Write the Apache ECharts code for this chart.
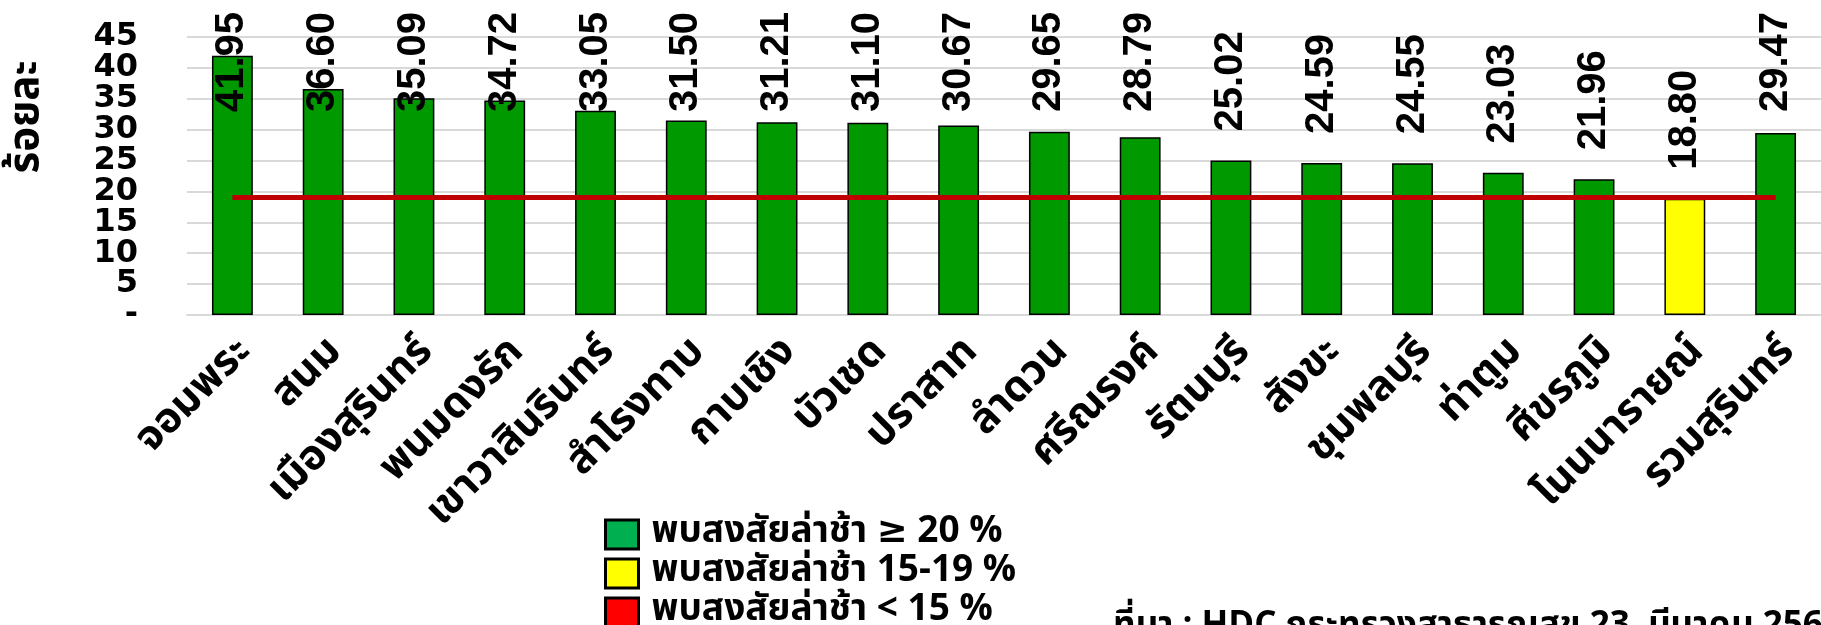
<!DOCTYPE html>
<html>
<head>
<meta charset="utf-8">
<script src="https://cdn.jsdelivr.net/npm/echarts@6/dist/echarts.min.js"></script>
<style>
  html, body { margin: 0; padding: 0; background: #fff; }
  #chart { width: 1821px; height: 625px; }
</style>
</head>
<body>
<div id="chart"></div>
<script>
const districts = ['จอมพระ', 'สนม', 'เมืองสุรินทร์', 'พนมดงรัก', 'เขาวาสินรินทร์', 'สำโรงทาบ', 'กาบเชิง', 'บัวเชด',
  'ปราสาท', 'ลำดวน', 'ศรีณรงค์', 'รัตนบุรี', 'สังขะ', 'ชุมพลบุรี', 'ท่าตูม', 'ศีขรภูมิ', 'โนนนารายณ์', 'รวมสุรินทร์'];
const percents = [41.95, 36.60, 35.09, 34.72, 33.05, 31.50, 31.21, 31.10, 30.67, 29.65, 28.79, 25.02, 24.59, 24.55,
  23.03, 21.96, 18.80, 29.47];
const legendNames = ['พบสงสัยล่าช้า ≥ 20 %', 'พบสงสัยล่าช้า 15-19 %', 'พบสงสัยล่าช้า < 15 %'];
const legendColors = ['#00b050', '#ffff00', '#ff0000'];
const targetLine = 19;
const yTicks = { min: 0, max: 45, interval: 5 };

const THAI = "Tahoma, 'Noto Sans Thai', 'DejaVu Sans', sans-serif";
const LABEL_FAMILY = "'Liberation Sans', Arial, sans-serif";
const LABEL_SIZE = 40;
const LABEL_GAP = 29;   // gap between bar top and its value label
const LABEL_TOP = 12;   // labels are pushed down so they never go above this

// split values into the three colour bands
const bands = [
  percents.map(v => v >= 20 ? v : '-'),
  percents.map(v => v >= 15 && v < 20 ? v : '-'),
  percents.map(v => v < 15 ? v : '-')
];
const barColors = ['#009900', '#ffff00', '#ff0000'];

const chart = echarts.init(document.getElementById('chart'));

const valueLabel = {
  show: true, position: 'top', distance: LABEL_GAP, rotate: 90,
  align: 'left', verticalAlign: 'middle',
  color: '#000', fontSize: LABEL_SIZE, fontWeight: 'bold', fontFamily: LABEL_FAMILY,
  formatter: p => p.value.toFixed(2)
};

const series = bands.map((data, i) => ({
  type: 'bar', stack: 'all', barWidth: '45%', name: legendNames[i], data,
  label: valueLabel,
  itemStyle: { color: barColors[i], borderColor: '#000', borderWidth: 1.5 }
}));
series[0].markLine = {
  silent: true, symbol: 'none', label: { show: false },
  lineStyle: { color: '#c00000', width: 5, type: 'solid' },
  data: [[{ coord: [0, targetLine] }, { coord: [districts.length - 1, targetLine] }]]
};

// tick labels are packed tightly; the min/max ones go on a twin axis so the overlap check keeps all of them
const tickText = { margin: 49, color: '#000', fontSize: 32, fontWeight: 'bold', fontFamily: "'DejaVu Sans', sans-serif" };
const isEnd = v => v === yTicks.min || v === yTicks.max;

chart.setOption({
  animation: false,
  grid: { left: 187, right: -7, top: 37, bottom: 310 },
  legend: legendNames.map((name, i) => ({
    orient: 'vertical', left: 604, top: 516 + i * 39, padding: 0,
    itemWidth: 33, itemHeight: 29, icon: 'rect', selectedMode: false,
    textStyle: { color: '#000', fontSize: 37, fontWeight: 'bold', fontFamily: THAI, padding: [0, 0, 0, 8] },
    data: [{ name, itemStyle: { color: legendColors[i], borderColor: '#000', borderWidth: 3 } }]
  })),
  xAxis: {
    type: 'category', data: districts,
    axisLine: { lineStyle: { color: '#d9d9d9', width: 2 } },
    axisTick: { show: false },
    axisLabel: { interval: 0, rotate: 45, margin: 46, padding: [0, -20, 0, 0],
      color: '#000', fontSize: 42, fontWeight: 'bold', fontFamily: THAI }
  },
  yAxis: [
    { type: 'value', ...yTicks,
      axisLine: { show: false }, axisTick: { show: false },
      splitLine: { lineStyle: { color: '#d9d9d9', width: 2 } },
      axisLabel: { ...tickText, showMinLabel: false, showMaxLabel: false,
        formatter: v => isEnd(v) ? '' : String(v) } },
    { type: 'value', ...yTicks, position: 'left',
      axisLine: { show: false }, axisTick: { show: false }, splitLine: { show: false },
      axisLabel: { ...tickText, formatter: v => v === yTicks.min ? '-' : (v === yTicks.max ? String(v) : '') } }
  ],
  graphic: [
    { type: 'text', x: 30, y: 117, rotation: Math.PI / 2,
      style: { text: 'ร้อยละ', font: "bold 42px " + THAI, fill: '#000', align: 'center', verticalAlign: 'middle' } },
    { type: 'text', x: 1113, y: 611,
      style: { text: 'ที่มา : HDC กระทรวงสาธารณสุข 23  มีนาคม 256', font: "bold 35px 'Liberation Sans Narrow', " + THAI,
        fill: '#000', align: 'left', verticalAlign: 'top' } }
  ],
  series
});

// push value labels down when they would leave the top of the chart (Excel-like)
const ctx = document.createElement('canvas').getContext('2d');
ctx.font = 'bold ' + LABEL_SIZE + 'px ' + LABEL_FAMILY;
chart.setOption({
  series: bands.map(data => ({
    data: data.map(v => {
      if (v === '-') return v;
      const barTop = chart.convertToPixel({ yAxisIndex: 0 }, v);
      const len = ctx.measureText(v.toFixed(2)).width;
      const labelTop = barTop - LABEL_GAP - len;
      return labelTop < LABEL_TOP ? { value: v, label: { distance: barTop - LABEL_TOP - len } } : v;
    })
  }))
});
</script>
</body>
</html>
